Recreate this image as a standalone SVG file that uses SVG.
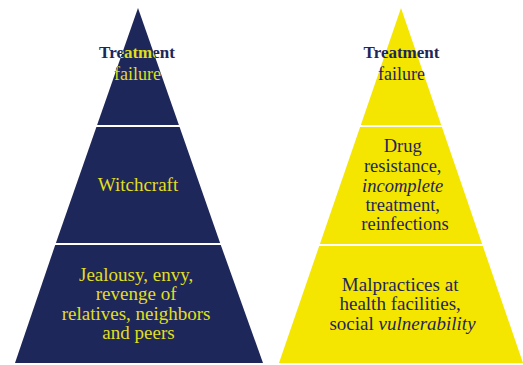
<svg xmlns="http://www.w3.org/2000/svg" width="523" height="365" viewBox="0 0 523 365">
  <defs>
    <style>
      .navy { fill: #1e2759; }
      .yel { fill: #f4e600; }
      .t { font-family: 'Liberation Serif', 'DejaVu Serif', serif; text-anchor: middle; }
      .ty { fill: #e2df1f; font-size: 19px; }
      .tn { fill: #1e2759; font-size: 19px; }
      .head { font-size: 17px; font-weight: bold; }
      .sub { font-size: 18px; }
    </style>
    <pattern id="leftTop" patternUnits="userSpaceOnUse" x="0" y="0" width="523" height="365">
      <rect x="0" y="0" width="523" height="365" fill="#1e2759"/>
      <polygon points="138,8 179,125 97,125" fill="#e2df1f"/>
    </pattern>
  </defs>
  <rect x="0" y="0" width="523" height="365" fill="#ffffff"/>

  <g id="left-pyramid">
    <g id="left-top">
      <polygon class="navy" points="138,8 178.9,125 97.1,125"/>
      <text x="137" y="58" class="t head" fill="url(#leftTop)">Treatment</text>
      <text x="137.5" y="80" class="t sub" fill="url(#leftTop)">failure</text>
    </g>
    <g id="left-middle">
      <polygon class="navy" points="96.4,127 179.6,127 220.1,243 55.9,243"/>
      <text x="138" y="191" class="t ty">Witchcraft</text>
    </g>
    <g id="left-bottom">
      <polygon class="navy" points="55.2,245 220.8,245 263,363 15,363"/>
      <text class="t ty">
        <tspan x="138.5" y="281">Jealousy, envy,</tspan>
        <tspan x="138.5" y="300">revenge of</tspan>
        <tspan x="138.5" y="320">relatives, neighbors</tspan>
        <tspan x="138.5" y="339">and peers</tspan>
      </text>
    </g>
  </g>

  <g id="right-pyramid">
    <g id="right-top">
      <polygon class="yel" points="401,8 441.2,125 360.8,125"/>
      <text x="401.5" y="58" class="t tn head">Treatment</text>
      <text x="401.5" y="80" class="t tn sub">failure</text>
    </g>
    <g id="right-middle">
      <polygon class="yel" points="360.1,127 441.9,127 482.1,244 319.9,244"/>
      <text class="t tn" style="font-size:18.5px">
        <tspan x="405" y="152">Drug</tspan>
        <tspan x="405" y="172">resistance,</tspan>
        <tspan x="405" y="192" font-style="italic">incomplete</tspan>
        <tspan x="405" y="211">treatment,</tspan>
        <tspan x="405" y="230">reinfections</tspan>
      </text>
    </g>
    <g id="right-bottom">
      <polygon class="yel" points="319.2,246 482.8,246 523,363 279,363"/>
      <text class="t tn">
        <tspan x="402.5" y="291">Malpractices at</tspan>
        <tspan x="402.5" y="310">health facilities,</tspan>
        <tspan x="402.5" y="330">social <tspan font-style="italic">vulnerability</tspan></tspan>
      </text>
    </g>
  </g>

  <g id="connectors"></g>
</svg>
